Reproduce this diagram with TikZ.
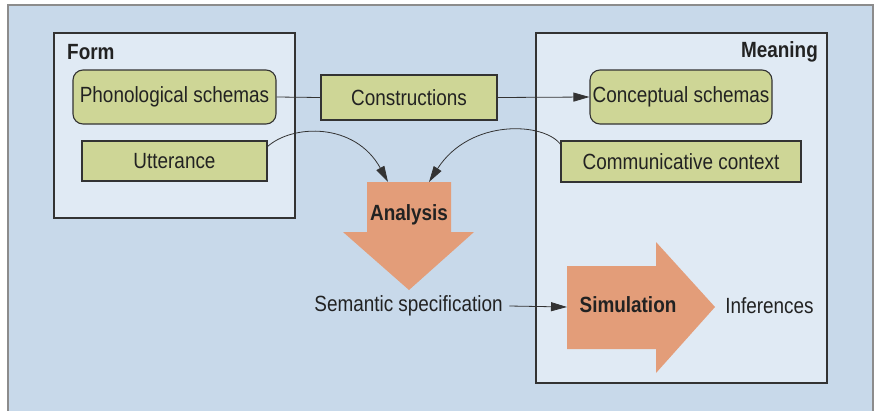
\documentclass[tikz,border=0pt]{standalone}
\usepackage{fontspec}
\setmainfont{Liberation Sans}[FakeStretch=0.86]
\usetikzlibrary{arrows.meta}
\definecolor{outerbg}{HTML}{C8D9EA}
\definecolor{innerbg}{HTML}{E0EAF4}
\definecolor{boxgreen}{HTML}{CED696}
\definecolor{arroworange}{HTML}{E39D79}
\definecolor{edgegray}{HTML}{333333}
\definecolor{framegray}{HTML}{8C8C8C}
\definecolor{txt}{HTML}{222222}
\tikzset{
  base/.style={font=\fontsize{22}{26}\selectfont, text=txt},
  greenbox/.style={base, draw=edgegray, line width=1.1pt, fill=boxgreen, inner sep=0pt},
  roundbox/.style={greenbox, rounded corners=10pt},
  panel/.style={draw=edgegray, line width=1.1pt, fill=innerbg},
  conn/.style={draw=edgegray, line width=0.8pt},
  arr/.style={conn, -{Triangle[length=16pt,width=9pt]}},
  bigarrow/.style={fill=arroworange, draw=none},
  lbl/.style={base, inner sep=0pt},
  boldlbl/.style={lbl, font=\fontsize{22}{26}\selectfont\bfseries},
}
\begin{document}
\begin{tikzpicture}[x=1pt,y=-1pt]
\useasboundingbox (0,0) rectangle (880,410);
\fill[white] (0,0) rectangle (880,410);
% outer background
\fill[outerbg] (8,5) rectangle (873,412);
\draw[framegray, line width=1.2pt] (8,412) -- (8,5) -- (873,5) -- (873,412);
% panels
\draw[panel] (54,33) rectangle (295,218);
\draw[panel] (536,33) rectangle (827,383);
\node[boldlbl, anchor=west] (form) at (67,52) {Form};
\node[boldlbl, anchor=east] (meaning) at (818,52) {Meaning};
% green boxes
\node[roundbox, minimum width=203pt, minimum height=54pt] (phon) at (174.5,97) {Phonological schemas};
\node[greenbox, minimum width=185pt, minimum height=40pt] (utt) at (174.5,161) {Utterance};
\node[greenbox, minimum width=176pt, minimum height=45pt] (cons) at (409,97.5) {Constructions};
\node[roundbox, minimum width=182pt, minimum height=54pt] (conc) at (681,97) {Conceptual schemas};
\node[greenbox, minimum width=240pt, minimum height=41pt] (comm) at (681,161.5) {Communicative context};
% analysis arrow
\fill[bigarrow] (367,182) -- (451,182) -- (451,232) -- (474,232) -- (409,290) -- (343,232) -- (367,232) -- cycle;
\coordinate (anaL) at (388,182);
\coordinate (anaR) at (429,182);
\node[boldlbl] (analysis) at (409,215) {Analysis};
% simulation arrow
\fill[bigarrow] (567,266) -- (656,266) -- (656,242) -- (715,307) -- (656,373) -- (656,349) -- (567,349) -- cycle;
\coordinate (simin) at (567,307);
\node[boldlbl] (simulation) at (628,305) {Simulation};
\node[lbl] (inf) at (769.5,306) {Inferences};
\node[lbl, inner xsep=6.5pt] (sem) at (408.5,306) {Semantic specification};
% connectors
\draw[conn] (phon.east) -- (cons.west);
\draw[arr] (cons.east) -- (conc.west);
\draw[arr] (267,147) .. controls (292,124) and (355,122) .. (anaL);
\draw[arr] (561,145) .. controls (545,122) and (470,118) .. (anaR);
\draw[arr] (sem.east) -- (simin);
\end{tikzpicture}
\end{document}
